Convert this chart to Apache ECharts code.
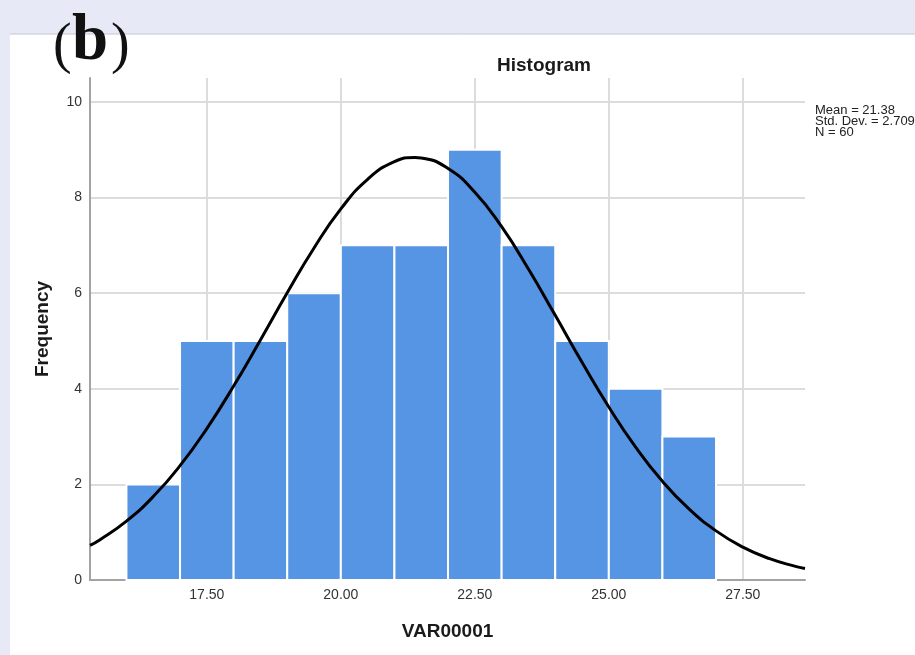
<!DOCTYPE html>
<html>
<head>
<meta charset="utf-8">
<title>Histogram</title>
<script src="https://cdn.jsdelivr.net/npm/echarts@6/dist/echarts.min.js"></script>
<style>
  html, body { margin: 0; padding: 0; background: #e7eaf6; }
  #chart { width: 915px; height: 655px; }
</style>
</head>
<body>
<div id="chart"></div>
<script>
// Histogram bins of VAR00001 (width 1) and their frequencies
const binStarts = [16, 17, 18, 19, 20, 21, 22, 23, 24, 25, 26];
const binEnds   = [17, 18, 19, 20, 21, 22, 23, 24, 25, 26, 27];
const counts    = [2, 5, 5, 6, 7, 7, 9, 7, 5, 4, 3];

// Fitted normal curve (Mean = 21.38, Std. Dev. = 2.709, N = 60), sampled heights
const curveX = [15.32, 15.5, 16, 16.5, 17, 17.5, 18, 18.5, 19, 19.5, 20, 20.5, 21, 21.38,
                21.5, 22, 22.5, 23, 23.5, 24, 24.5, 25, 25.5, 26, 26.5, 27, 27.5, 28, 28.5, 28.66];
const curveY = [0.724, 0.838, 1.230, 1.745, 2.391, 3.168, 4.057, 5.021, 6.007, 6.945, 7.761,
                8.382, 8.749, 8.836, 8.827, 8.608, 8.112, 7.390, 6.505, 5.536, 4.553, 3.618,
                2.780, 2.064, 1.481, 1.027, 0.688, 0.446, 0.279, 0.239];

// Summary statistics shown beside the plot
const statLines = ['Mean = 21.38', 'Std. Dev. = 2.709', 'N = 60'];

const FONT = "'Liberation Sans', Arial, sans-serif";

const barData = binStarts.map((s, i) => [s, binEnds[i], counts[i]]);
const curveData = curveX.map((x, i) => [x, curveY[i]]);

const chart = echarts.init(document.getElementById('chart'), null, { renderer: 'canvas' });

chart.setOption({
  backgroundColor: '#e7eaf6',
  animation: false,
  textStyle: { fontFamily: FONT },
  title: {
    text: 'Histogram',
    left: 539,
    top: 51,
    textAlign: 'center',
    textStyle: { fontFamily: FONT, fontSize: 19, fontWeight: 'bold', color: '#1a1a1a' }
  },
  grid: { left: 90, right: 110, top: 78, bottom: 75, containLabel: false },
  xAxis: {
    type: 'value',
    min: 15.32,
    max: 28.66,
    minInterval: 2.5,
    maxInterval: 2.5,
    name: 'VAR00001',
    nameLocation: 'middle',
    nameGap: 42,
    nameTextStyle: { fontFamily: FONT, fontSize: 19, fontWeight: 'bold', color: '#1a1a1a' },
    axisLine: { show: true, lineStyle: { color: '#a3a3a3', width: 2 } },
    axisTick: { show: false },
    axisLabel: {
      fontFamily: FONT, fontSize: 14, color: '#333', margin: 8,
      showMinLabel: false, showMaxLabel: false,
      formatter: v => v.toFixed(2)
    },
    splitLine: {
      show: true, showMinLine: false, showMaxLine: false,
      lineStyle: { color: '#dcdcdc', width: 2 }
    }
  },
  yAxis: {
    type: 'value',
    min: 0,
    max: 10.5,
    minInterval: 2,
    maxInterval: 2,
    name: 'Frequency',
    nameLocation: 'middle',
    nameGap: 38,
    nameTextStyle: { fontFamily: FONT, fontSize: 19, fontWeight: 'bold', color: '#1a1a1a' },
    axisLine: { show: true, lineStyle: { color: '#a3a3a3', width: 2 } },
    axisTick: { show: false },
    axisLabel: {
      fontFamily: FONT, fontSize: 14, color: '#333', margin: 8,
      showMinLabel: true, showMaxLabel: false
    },
    splitLine: {
      show: true, showMinLine: false, showMaxLine: false,
      lineStyle: { color: '#dcdcdc', width: 2 }
    }
  },
  graphic: [
    // white output panel
    { type: 'rect', z: -10, silent: true,
      shape: { x: 10, y: 34, width: 905, height: 621 },
      style: { fill: '#ffffff' } },
    { type: 'line', z: -9, silent: true,
      shape: { x1: 10, y1: 34, x2: 915, y2: 34 },
      style: { stroke: '#c3c6d4', lineWidth: 1 } },
    // panel label
    { type: 'text', z: 10, left: 53, top: 19,
      style: { text: '(', font: "56px 'Liberation Serif', 'Times New Roman', serif", fill: '#111' } },
    { type: 'text', z: 10, left: 72, top: 10,
      style: { text: 'b', font: "bold 65px 'Liberation Serif', 'Times New Roman', serif", fill: '#111' } },
    { type: 'text', z: 10, left: 111, top: 19,
      style: { text: ')', font: "56px 'Liberation Serif', 'Times New Roman', serif", fill: '#111' } },
    // statistics box
    { type: 'text', z: 10, left: 815, top: 104,
      style: { text: statLines.join('\n'), font: '13px ' + FONT, lineHeight: 11, fill: '#222' } }
  ],
  series: [
    {
      type: 'custom',
      name: 'Frequency',
      data: barData,
      encode: { x: [0, 1], y: 2 },
      z: 2,
      renderItem: function (params, api) {
        const p0 = api.coord([api.value(0), api.value(2)]);
        const p1 = api.coord([api.value(1), 0]);
        return {
          type: 'rect',
          shape: { x: p0[0], y: p0[1], width: p1[0] - p0[0], height: p1[1] - p0[1] },
          style: { fill: '#5694e4', stroke: '#ffffff', lineWidth: 2 }
        };
      }
    },
    {
      type: 'line',
      name: 'Normal',
      data: curveData,
      smooth: true,
      showSymbol: false,
      z: 5,
      lineStyle: { color: '#000000', width: 3 }
    }
  ]
});
</script>
</body>
</html>
